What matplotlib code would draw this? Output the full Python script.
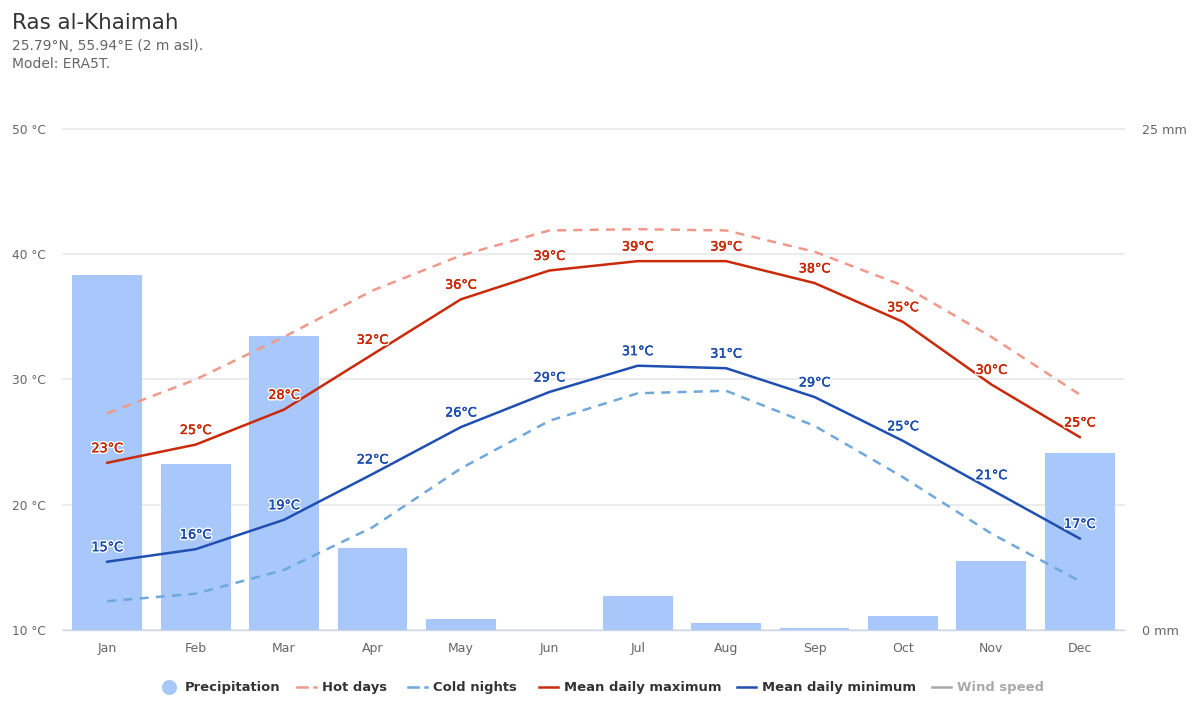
import matplotlib
matplotlib.use("Agg")
import matplotlib.pyplot as plt
import matplotlib.patheffects as pe
from matplotlib.lines import Line2D

months = ["Jan", "Feb", "Mar", "Apr", "May", "Jun", "Jul", "Aug", "Sep", "Oct", "Nov", "Dec"]
precip = [17.7, 8.28, 14.67, 4.09, 0.55, 0.0, 1.7, 0.35, 0.1, 0.7, 3.44, 8.83]
hot_days = [27.3, 30.0, 33.4, 37.1, 39.9, 41.9, 42.0, 41.9, 40.2, 37.5, 33.4, 28.8]
cold_nights = [12.3, 12.9, 14.8, 18.2, 22.9, 26.7, 28.9, 29.1, 26.3, 22.2, 17.7, 13.9]
mean_max = [23.35, 24.8, 27.6, 32.0, 36.4, 38.7, 39.45, 39.45, 37.7, 34.6, 29.6, 25.4]
mean_min = [15.45, 16.45, 18.8, 22.45, 26.2, 29.0, 31.1, 30.9, 28.6, 25.1, 21.2, 17.3]
temp_ticks = [10, 20, 30, 40, 50]
precip_ticks = [0, 25]

C_BAR = "#a8c7fa"
C_HOT = "#f0998a"
C_COLD = "#6fa8dc"
C_MAX = "#c92a0a"
C_MIN = "#1f4fb0"
C_GRID = "#e6e6e6"
C_TICK = "#666666"
C_LEG = "#333333"
C_OFF = "#a9a9a9"

W, H = 1200, 720
plt.rcParams["font.family"] = ["DejaVu Sans"]
fig = plt.figure(figsize=(W / 100, H / 100), dpi=100)
ax = fig.add_axes([63 / W, 1 - 630 / H, (1124 - 63) / W, (630 - 129) / H])
ax.set_xlim(-0.5, 11.5)
ax.set_ylim(10, 50)
ax2 = ax.twinx()
ax2.set_ylim(0, 25)
ax.set_zorder(2)
ax2.set_zorder(1)
ax.patch.set_visible(False)

ax2.bar(range(12), precip, width=0.79, color=C_BAR, linewidth=0, zorder=2)
ax2.set_yticks(precip_ticks, [f"{v} mm" for v in precip_ticks], fontsize=9.2, color=C_TICK)
ax2.tick_params(axis="y", length=0, pad=13)
for v in temp_ticks:
    ax2.axhline((v - 10) * 25 / 40, color=C_GRID, lw=1.1, zorder=1, clip_on=False)

ax.plot(range(12), hot_days, color=C_HOT, lw=1.8, dashes=(3.6, 2.9), zorder=3)
ax.plot(range(12), cold_nights, color=C_COLD, lw=1.8, dashes=(3.6, 2.9), zorder=3)
ax.plot(range(12), mean_max, color=C_MAX, lw=1.8, zorder=4)
ax.plot(range(12), mean_min, color=C_MIN, lw=1.8, zorder=4)

for series, col in ((mean_max, C_MAX), (mean_min, C_MIN)):
    effects = [pe.withStroke(linewidth=2.4, foreground="white"),
               pe.Stroke(linewidth=0.25, foreground=col), pe.Normal()]
    for i, v in enumerate(series):
        ax.annotate(f"{round(v)}°C", (i, v), xytext=(0, 5.5), textcoords="offset points",
                    ha="center", va="bottom", fontsize=9.2, color=col, zorder=5,
                    path_effects=effects)

ax.set_xticks(range(12), months, fontsize=9.0, color=C_TICK)
ax.set_yticks(temp_ticks, [f"{v} °C" for v in temp_ticks], fontsize=8.8, color=C_TICK)
ax.tick_params(axis="x", length=0, pad=8.5)
ax.tick_params(axis="y", length=0, pad=12)
for a in (ax, ax2):
    for s in a.spines.values():
        s.set_visible(False)
ax.spines["bottom"].set_visible(True)
ax.spines["bottom"].set_color("#ccd6eb")
ax.spines["bottom"].set_linewidth(1.0)

# Header
fig.text(12 / W, 1 - 29 / H, "Ras al-Khaimah", fontsize=15.4, color="#333333", va="baseline")
fig.text(12 / W, 1 - 49.5 / H, "25.79°N, 55.94°E (2 m asl).", fontsize=10.0, color=C_TICK, va="baseline")
fig.text(12 / W, 1 - 67.5 / H, "Model: ERA5T.", fontsize=10.0, color=C_TICK, va="baseline")

# Legend
ly = 1 - 687 / H
def leg_text(x, s, c=C_LEG):
    fig.text(x / W, ly, s, fontsize=9.45, fontweight="bold", color=c, va="center")
def leg_line(x0, x1, c, dashed=False):
    if dashed:
        fig.add_artist(Line2D([x0 / W, (x0 + 10) / W], [ly, ly], color=c, lw=1.8, transform=fig.transFigure))
        fig.add_artist(Line2D([(x1 - 2) / W, x1 / W], [ly, ly], color=c, lw=1.8, transform=fig.transFigure))
    else:
        fig.add_artist(Line2D([x0 / W, x1 / W], [ly, ly], color=c, lw=1.8, transform=fig.transFigure))

fig.add_artist(Line2D([169 / W], [ly], marker="o", ms=10.8, color=C_BAR, mew=0, ls="none", transform=fig.transFigure))
leg_text(185, "Precipitation")
leg_line(297, 316, C_HOT, True)
leg_text(322, "Hot days")
leg_line(408, 427, C_COLD, True)
leg_text(433, "Cold nights")
leg_line(539, 558, C_MAX)
leg_text(564, "Mean daily maximum")
leg_line(737, 756, C_MIN)
leg_text(762, "Mean daily minimum")
leg_line(932, 951, C_OFF)
leg_text(957, "Wind speed", C_OFF)

fig.savefig("out.png", dpi=100)
